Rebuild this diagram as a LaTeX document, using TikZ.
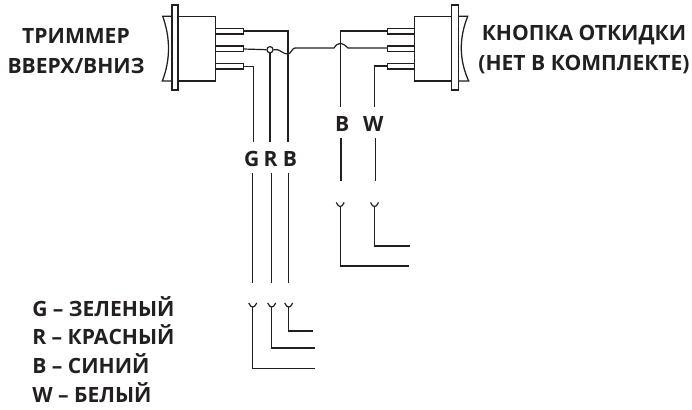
\documentclass[tikz,border=0pt]{standalone}
\usepackage{fontspec}
\setmainfont{Open Sans}
\definecolor{ink}{HTML}{231F20}
\tikzset{
  wire/.style={draw=ink,line width=0.9pt,line join=miter},
  part/.style={draw=ink,line width=0.95pt,fill=white},
  lbl/.style={text=ink,font=\bfseries\fontsize{15.8}{22.5}\selectfont,inner sep=0pt},
  lab/.style={text=ink,font=\bfseries\fontsize{15.8}{18}\selectfont,inner sep=0pt,anchor=west},
  cup/.pic={\draw[wire] (-4,-3) .. controls (-3,0) and (-1,1) .. (0,1) .. controls (1,1) and (3,0) .. (4,-3);},
}
\begin{document}
\begin{tikzpicture}[x=0.75pt,y=-0.75pt]
\useasboundingbox (0,0) rectangle (692,410);
% left switch
\draw[part,fill=none] (172,16.3) -- (162.7,16.3) .. controls (170.5,38) and (170.5,60) .. (162.3,81) -- (172,81);
\draw[part] (178,16.3) rectangle (215.7,81);
\draw[part] (172,5) rectangle (178,90);
\foreach \y in {28.3,46,63.3}{\draw[part] (215.7,\y) rectangle ++(27.6,5.8);}
% right switch
\draw[part,fill=none] (458.3,16.3) -- (467.7,16.3) .. controls (459,38) and (459,60) .. (468.7,81) -- (458.3,81);
\draw[part] (414.3,16.3) rectangle (451.7,81);
\draw[part] (451.7,5) rectangle (458.3,90);
\foreach \y in {28.3,46,63.3}{\draw[part] (387.3,\y) rectangle ++(27,5.8);}
% named points
\coordinate (lt) at (243.3,31); \coordinate (lm) at (243.3,49); \coordinate (lb) at (243.3,66.5);
\coordinate (rt) at (387.3,31); \coordinate (rm) at (387.3,48); \coordinate (rb) at (387.3,66);
\node[circle,draw=ink,line width=0.9pt,minimum size=4.6pt,inner sep=0pt] (dot) at (270,49.7) {};
% left wires
\draw[wire] (lb) -- (253.7,66.5) -- (253.7,141.7);
\draw[wire] (dot.south) -- (270,141.7);
\draw[wire] (lt) -- (288,31) -- (288,141.7);
\draw[wire] (lm) -- (dot.west);
\draw[wire] (dot.east) -- (277.5,49.7) .. controls (281,50.5) and (283,54) .. (288,54) .. controls (291,54) and (292,48) .. (295,48) -- (334,48) .. controls (336,45) and (338,43.3) .. (340.7,43.3) .. controls (343.5,43.3) and (345.5,46) .. (348,48) -- (rm);
\draw[wire] (252.7,173) -- (252.7,283); \draw[wire] (271.7,173) -- (271.7,283); \draw[wire] (288.7,173) -- (288.7,283);
% right wires
\draw[wire] (rt) -- (340.7,31) -- (340.7,107);
\draw[wire] (rb) -- (374.3,66) -- (374.3,107);
\draw[wire] (341,138) -- (341,181); \draw[wire] (375.3,138) -- (375.3,181);
% lower connectors
\foreach \x/\yy/\xe in {252.7/368.3/315,271.7/348/315,288.7/331/312.7}{
  \pic at (\x,306) {cup};
  \draw[wire] (\x,307) -- (\x,\yy) -- (\xe,\yy);}
\foreach \x/\yy/\xe in {340.2/266/408.5,374.5/246/410}{
  \pic at (\x,205.5) {cup};
  \draw[wire] (\x,206) -- (\x,\yy) -- (\xe,\yy);}
% text
\node[lbl,align=center] (t1) at (76,50.7) {ТРИММЕР\\ВВЕРХ/ВНИЗ};
\node[lbl,align=center] (t2) at (584,49.3) {КНОПКА ОТКИДКИ\\(НЕТ В КОМПЛЕКТЕ)};
\node[lbl] (g) at (251.7,159) {G}; \node[lbl] (r) at (270.7,159) {R}; \node[lbl] (b) at (290,159) {B};
\node[lbl] (b2) at (342.3,124) {B}; \node[lbl] (w) at (373.3,124) {W};
\node[lab] (k1) at (32,306.7) {G – ЗЕЛЕНЫЙ};
\node[lab] (k2) at (32,334.5) {R – КРАСНЫЙ};
\node[lab] (k3) at (32,364) {B – СИНИЙ};
\node[lab] (k4) at (32,392.7) {W – БЕЛЫЙ};
\end{tikzpicture}
\end{document}
